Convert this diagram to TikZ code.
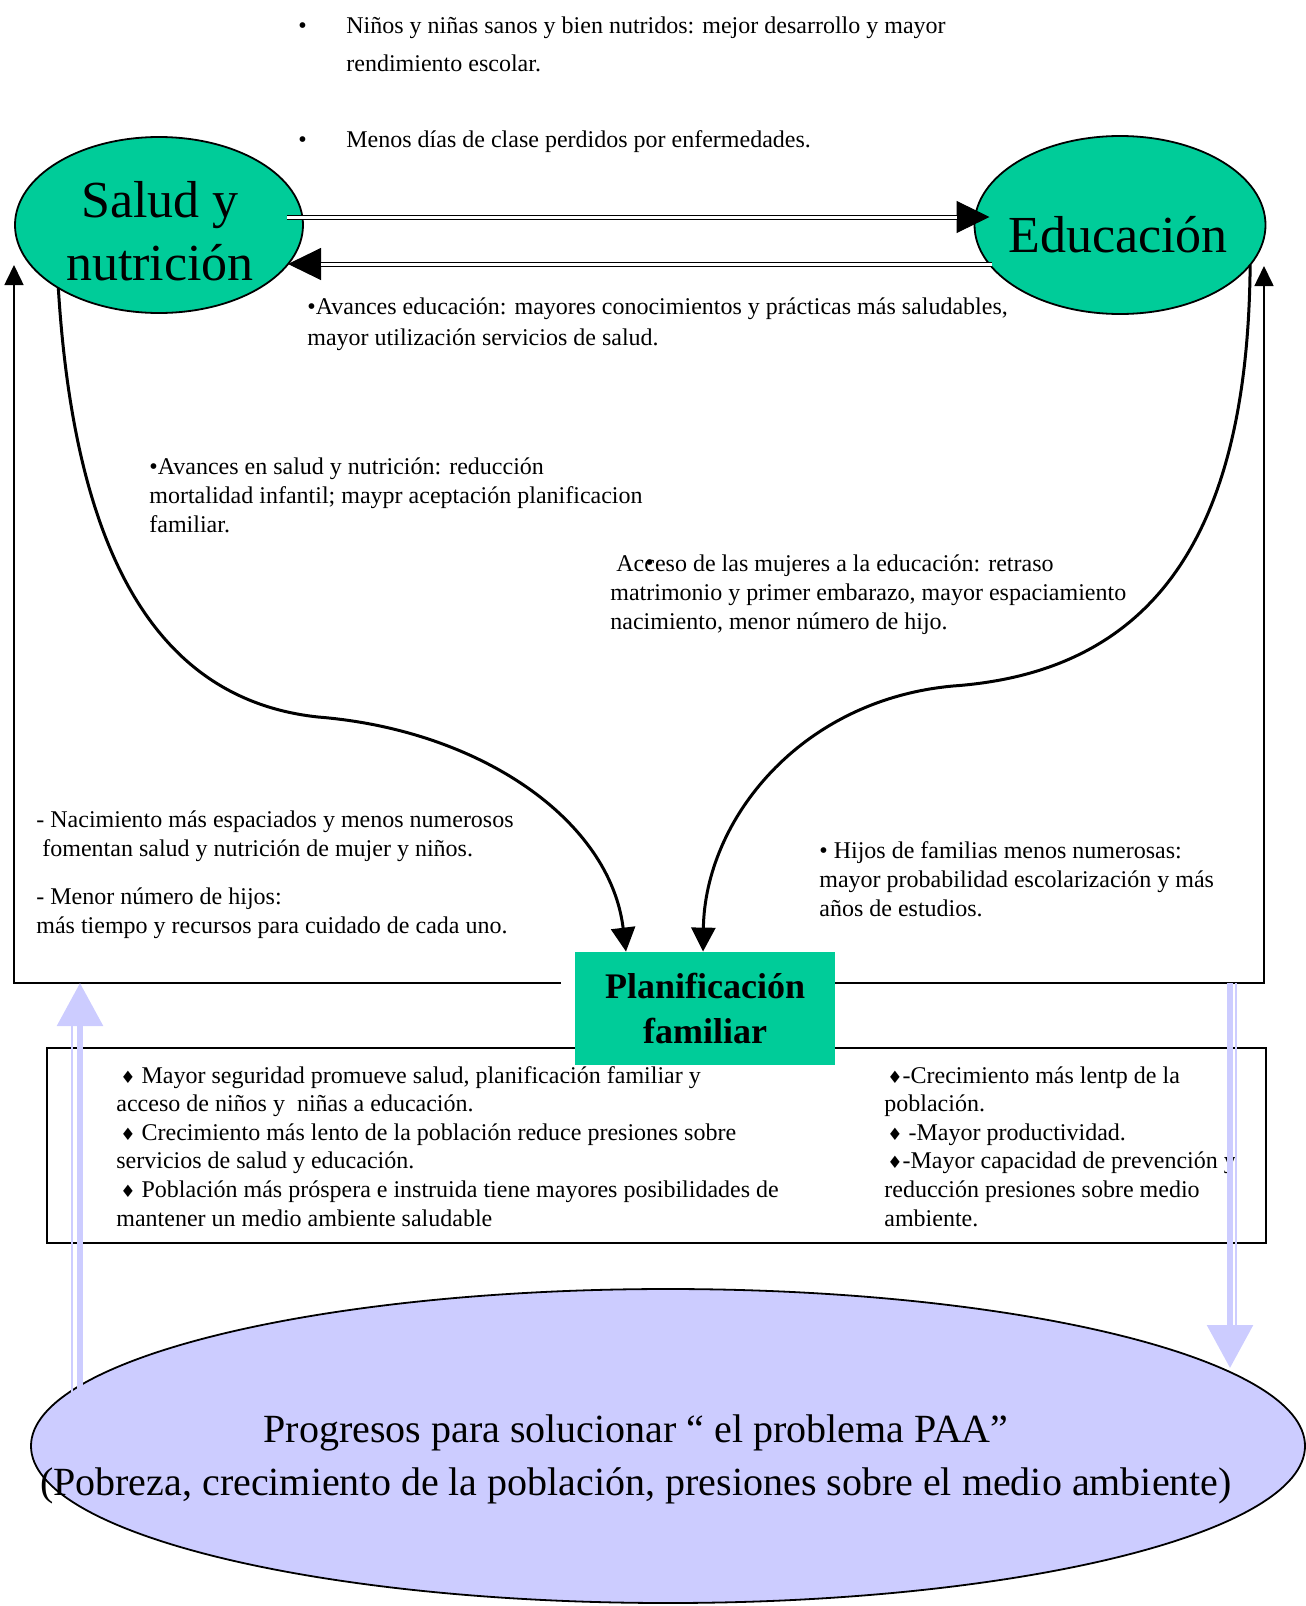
\documentclass[tikz,border=0pt]{standalone}
\usepackage{fontspec}
\setmainfont{Liberation Serif}
\newfontfamily\symbfont{DejaVu Sans}
\usepackage{tikz}
\usetikzlibrary{arrows.meta,positioning,shapes.geometric}
\usepackage{xcolor}
\definecolor{paagreen}{HTML}{00CC99}
\definecolor{paalav}{HTML}{CCCCFF}
\newcommand{\dia}{{\symbfont\fontsize{8.5}{8.5}\selectfont ♦}}

\begin{document}
\begin{tikzpicture}[
  x=0.5pt, y=-0.5pt,
  topic/.style={ellipse, draw, line width=0.9pt, fill=paagreen, inner sep=0pt, outer sep=0pt},
  topiclabel/.style={align=center, inner sep=0pt, font=\fontsize{26}{31.5}\selectfont},
  planbox/.style={fill=paagreen, minimum width=130pt, minimum height=56.5pt, inner sep=0pt,
    align=center, font=\bfseries\fontsize{18}{22.5}\selectfont},
  note/.style={anchor=base west, inner sep=0pt, align=left, font=\fontsize{12}{14.5}\selectfont},
  dot/.style={anchor=base west, inner sep=0pt, font=\fontsize{12}{14.5}\selectfont},
  effbox/.style={draw, line width=0.8pt, minimum width=609.5pt, minimum height=97.5pt, inner sep=0pt},
  paaell/.style={ellipse, draw, line width=0.9pt, fill=paalav, minimum width=637pt,
    minimum height=157pt, inner sep=0pt, outer sep=0pt},
  paalabel/.style={align=center, inner sep=0pt, font=\fontsize{20}{26.5}\selectfont},
  dbltip/.style={line width=0.5pt, -{Triangle[length=16.5pt, width=16pt]}},
  dblline/.style={double, double distance=1.5pt, line width=0.5pt, shorten >=16.5pt},
  curvearrow/.style={line width=1.5pt, -{Triangle[length=12pt, width=12pt]}},
  framearrow/.style={line width=0.8pt, -{Triangle[length=10pt, width=9.5pt]}},
  lavarrow/.style={draw=paalav, line width=3pt, -{Triangle[length=21.5pt, width=22.5pt]}},
  lavthin/.style={draw=paalav, line width=1.2pt}
]
\useasboundingbox (0,0) rectangle (1306,1606);

\node[paaell] (paa) at (668,1446) {};
\node[paalabel, anchor=base] (paatext) at (636,1495)
  {Progresos para solucionar “ el problema PAA”\\(Pobreza, crecimiento de la población, presiones sobre el medio ambiente)};

\node[effbox] (effects) at (656.5,1145.5) {};
\node[note, font=\fontsize{12}{14.3}\selectfont] (effleft) at (116,1226)
  {\hspace{2pt}\dia{} Mayor seguridad promueve salud, planificación familiar y\\
   acceso de niños y \ niñas a educación.\\
   \hspace{2pt}\dia{} Crecimiento más lento de la población reduce presiones sobre\\
   servicios de salud y educación.\\
   \hspace{2pt}\dia{} Población más próspera e instruida tiene mayores posibilidades de\\
   mantener un medio ambiente saludable};
\node[note, font=\fontsize{12}{14.3}\selectfont] (effright) at (884,1226)
  {\hspace{1.5pt}\dia-Crecimiento más lentp de la\\
   población.\\
   \hspace{1.5pt}\dia{} -Mayor productividad.\\
   \hspace{1.5pt}\dia-Mayor capacidad de prevención y\\
   reducción presiones sobre medio\\
   ambiente.};

\node[planbox] (plan) at (705,1008.5) {Planificación\\familiar};

\coordinate (framel) at (14,983);
\coordinate (framer) at (1264,983);
\coordinate (saludin) at (14,265);
\coordinate (educin) at (1264,266);
\draw[framearrow] ([xshift=-7pt]plan.west |- framel) -- (framel) -- (saludin);
\draw[framearrow] (plan.east |- framer) -- (framer) -- (educin);

\coordinate (lavl) at (80,1400);
\coordinate (lavltop) at (lavl |- framel);
\coordinate (lavr) at (1230,983);
\coordinate (lavrend) at (1230,1368);
\draw[lavarrow] (lavl) -- (lavltop);
\draw[lavthin] ([xshift=-4pt]lavl) -- ([xshift=-4pt,yshift=-21.5pt]lavltop);
\draw[lavarrow] (lavr) -- (lavrend);
\draw[lavthin] ([xshift=3pt]lavr) -- ([xshift=3pt,yshift=21.5pt]lavrend);

\node[topic, minimum width=144pt, minimum height=88pt] (salud) at (159,225) {};
\node[topiclabel] (saludtext) at ([shift={(1,6)}]salud.center) {Salud y\\nutrición};
\node[topic, minimum width=145.5pt, minimum height=89pt] (educ) at (1120,225) {};
\node[topiclabel, anchor=base] (eductext) at ([shift={(-2,27)}]educ.center) {Educación};

\draw[dbltip] ([shift={(-16,-8)}]salud.east) -- ([shift={(15,-8)}]educ.west);
\draw[dblline] ([shift={(-16,-8)}]salud.east) -- ([shift={(15,-8)}]educ.west);
\draw[dbltip] ([shift={(17,39)}]educ.west) -- ([shift={(-15,39)}]salud.east);
\draw[dblline] ([shift={(17,39)}]educ.west) -- ([shift={(-15,39)}]salud.east);

\draw[curvearrow] (salud.212) .. controls (75,560) and (160,700) .. (318,717)
  .. controls (480,730) and (610,820) .. ([xshift=-39.5pt]plan.north);
\draw[curvearrow] (educ.-17) .. controls (1248,540) and (1150,672) .. (953,686)
  .. controls (800,700) and (705,820) .. ([xshift=-1pt]plan.north);

\node[dot] (bulA) at (298,33) {•};
\node[note, font=\fontsize{12}{19}\selectfont] (ninos) at (346,71)
  {Niños y niñas sanos y bien nutridos: mejor desarrollo y mayor\\rendimiento escolar.};
\node[dot] (bulB) at (298,147) {•};
\node[note] (menos) at (346,147) {Menos días de clase perdidos por enfermedades.};

\node[note, font=\fontsize{12}{15.5}\selectfont] (avedu) at (307,345)
  {•Avances educación: mayores conocimientos y prácticas más saludables,\\mayor utilización servicios de salud.};
\node[note] (avsal) at (149,532)
  {•Avances en salud y nutrición: reducción\\mortalidad infantil; maypr aceptación planificacion\\familiar.};
\node[note] (acceso) at (610,629)
  {\ Acceso de las mujeres a la educación: retraso\\matrimonio y primer embarazo, mayor espaciamiento\\nacimiento, menor número de hijo.};
\node[dot] (accdot) at (645,570) {•};
\node[note, font=\fontsize{12}{14.25}\selectfont] (nacim) at (36,933)
  {- Nacimiento más espaciados y menos numerosos\\\ fomentan salud y nutrición de mujer y niños.\\[10pt]- Menor número de hijos:\\más tiempo y recursos para cuidado de cada uno.};
\node[note] (hijos) at (819,916)
  {• Hijos de familias menos numerosas:\\mayor probabilidad escolarización y más\\años de estudios.};
\end{tikzpicture}
\end{document}
